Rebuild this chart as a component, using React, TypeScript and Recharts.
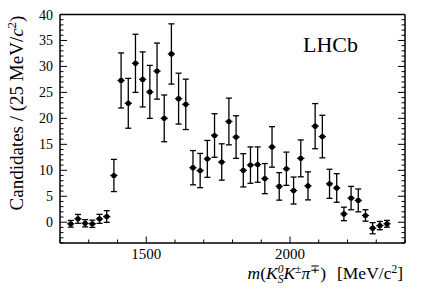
import React from 'react';
import { ComposedChart, Scatter, ErrorBar, XAxis, YAxis } from 'recharts';

// bin centres of the 25 MeV bins
const MASS = [
  1237.5, 1262.5, 1287.5, 1312.5, 1337.5, 1362.5, 1387.5, 1412.5, 1437.5, 1462.5,
  1487.5, 1512.5, 1537.5, 1562.5, 1587.5, 1612.5, 1637.5, 1662.5, 1687.5, 1712.5,
  1737.5, 1762.5, 1787.5, 1812.5, 1837.5, 1862.5, 1887.5, 1912.5, 1937.5, 1962.5,
  1987.5, 2012.5, 2037.5, 2062.5, 2087.5, 2112.5, 2137.5, 2162.5, 2187.5, 2212.5,
  2237.5, 2262.5, 2287.5, 2312.5, 2337.5,
];

const COUNTS = [
  -0.3, 0.65, -0.2, -0.3, 0.65, 1.1, 9.0, 27.3, 22.9, 30.6,
  27.5, 25.1, 29.1, 20.0, 32.4, 23.8, 22.7, 10.5, 9.95, 12.2,
  16.7, 11.6, 19.4, 16.4, 10.0, 11.0, 11.1, 8.4, 14.5, 6.9,
  10.3, 6.1, 12.3, 7.0, 18.5, 16.5, 7.4, 6.6, 1.6, 4.65,
  4.2, 1.3, -1.15, -0.65, -0.3,
];

const ERRORS = [
  0.65, 0.85, 0.7, 0.7, 0.87, 1.13, 3.1, 5.3, 4.8, 5.6,
  5.3, 5.1, 5.4, 4.5, 5.8, 4.9, 4.85, 3.3, 3.3, 3.55,
  4.2, 3.5, 4.5, 4.1, 3.2, 3.5, 3.4, 2.9, 3.9, 2.65,
  3.2, 2.6, 3.55, 2.7, 4.35, 4.1, 2.8, 2.75, 1.3, 2.25,
  2.2, 1.1, 1.07, 0.8, 0.65,
];

const HALF_BIN = 12.5;

const X_TICKS = [1200, 1300, 1400, 1500, 1600, 1700, 1800, 1900, 2000, 2100, 2200, 2300, 2400];
const X_LABELS = [1500, 2000];
const Y_TICKS = [
  -4, -3, -2, -1, 0, 1, 2, 3, 4, 5, 6, 7, 8, 9, 10, 11, 12, 13, 14, 15, 16, 17, 18, 19, 20,
  21, 22, 23, 24, 25, 26, 27, 28, 29, 30, 31, 32, 33, 34, 35, 36, 37, 38, 39, 40,
];
const Y_LABELS = [0, 5, 10, 15, 20, 25, 30, 35, 40];

const SERIF = '"Liberation Serif", "Times New Roman", serif';

const points = MASS.map((m, i) => ({ m, n: COUNTS[i], err: ERRORS[i], xerr: HALF_BIN }));

const BottomTick = (props: any) => {
  const { x, y, payload } = props;
  const major = X_LABELS.includes(payload.value);
  return (
    <g>
      <line x1={x} x2={x} y1={y} y2={y - (major ? 6.5 : 3.5)} stroke="#000" strokeWidth={1} />
      {major && (
        <text x={x} y={y + 16} textAnchor="middle" fontFamily={SERIF} fontSize={15} fill="#000">
          {payload.value}
        </text>
      )}
    </g>
  );
};

const TopTick = (props: any) => {
  const { x, y, payload } = props;
  const major = X_LABELS.includes(payload.value);
  return <line x1={x} x2={x} y1={y} y2={y + (major ? 6.5 : 3.5)} stroke="#000" strokeWidth={1} />;
};

const LeftTick = (props: any) => {
  const { x, y, payload } = props;
  const major = Y_LABELS.includes(payload.value);
  return (
    <g>
      <line x1={x} x2={x + (major ? 7 : 3.5)} y1={y} y2={y} stroke="#000" strokeWidth={1} />
      {major && (
        <text x={x - 7} y={y + 5} textAnchor="end" fontFamily={SERIF} fontSize={14} fill="#000">
          {payload.value}
        </text>
      )}
    </g>
  );
};

const RightTick = (props: any) => {
  const { x, y, payload } = props;
  const major = Y_LABELS.includes(payload.value);
  return <line x1={x} x2={x - (major ? 7 : 3.5)} y1={y} y2={y} stroke="#000" strokeWidth={1} />;
};

const Dot = (p: any) => <circle cx={p.cx} cy={p.cy} r={2.6} fill="#000" />;

const frame = { stroke: '#000', strokeWidth: 1.5 };

export default function App() {
  return (
    <div style={{ position: 'absolute', left: 0, top: 0, width: 427, height: 290, background: '#fff' }}>
      <ComposedChart width={427} height={290} data={points} margin={{ top: 13.5, right: 21, bottom: 46, left: 59 }}>
        <XAxis
          xAxisId="b"
          dataKey="m"
          type="number"
          domain={[1200, 2400]}
          allowDataOverflow
          ticks={X_TICKS}
          interval={0}
          height={1}
          tickSize={0}
          tickMargin={0}
          tickLine={false}
          axisLine={frame}
          tick={<BottomTick />}
        />
        <XAxis
          xAxisId="t"
          orientation="top"
          type="number"
          domain={[1200, 2400]}
          allowDataOverflow
          ticks={X_TICKS}
          interval={0}
          height={1}
          tickSize={0}
          tickMargin={0}
          tickLine={false}
          axisLine={frame}
          tick={<TopTick />}
        />
        <YAxis
          yAxisId="l"
          dataKey="n"
          type="number"
          domain={[-4, 40]}
          allowDataOverflow
          ticks={Y_TICKS}
          interval={0}
          width={1}
          tickSize={0}
          tickMargin={0}
          tickLine={false}
          axisLine={frame}
          tick={<LeftTick />}
        />
        <YAxis
          yAxisId="r"
          orientation="right"
          type="number"
          domain={[-4, 40]}
          allowDataOverflow
          ticks={Y_TICKS}
          interval={0}
          width={1}
          tickSize={0}
          tickMargin={0}
          tickLine={false}
          axisLine={frame}
          tick={<RightTick />}
        />
        <Scatter xAxisId="b" yAxisId="l" dataKey="n" shape={<Dot />} isAnimationActive={false}>
          <ErrorBar dataKey="err" direction="y" width={3} stroke="#000" strokeWidth={1.3} isAnimationActive={false} />
          <ErrorBar dataKey="xerr" direction="x" width={0} stroke="#000" strokeWidth={1.3} isAnimationActive={false} />
        </Scatter>
      </ComposedChart>
      <svg width={427} height={290} style={{ position: 'absolute', left: 0, top: 0, pointerEvents: 'none' }}>
        <text x={303} y={52} fontFamily={SERIF} fontSize={22} fill="#000">LHCb</text>
        <text
          transform="translate(23,113) rotate(-90)"
          textAnchor="middle"
          fontFamily={SERIF}
          fontSize={19}
          fill="#000"
        >
          Candidates / (25 MeV/<tspan fontStyle="italic">c</tspan>
          <tspan fontSize={13} dy={-7}>2</tspan>
          <tspan dy={7}>)</tspan>
        </text>
        <text x={403} y={279} textAnchor="end" fontFamily={SERIF} fontSize={17.5} fill="#000">
          <tspan fontStyle="italic">m</tspan>
          <tspan>(</tspan>
          <tspan fontStyle="italic">K</tspan>
          <tspan fontStyle="italic" fontSize={11.5} dy={-6}>0</tspan>
          <tspan fontStyle="italic" fontSize={11.5} dx={-5.8} dy={10}>S</tspan>
          <tspan fontStyle="italic" dy={-4}>K</tspan>
          <tspan fontSize={11.5} dy={-6}>±</tspan>
          <tspan fontStyle="italic" dy={6}>π</tspan>
          <tspan fontSize={11.5} dy={-6}>∓</tspan>
          <tspan dy={6}>)</tspan>
          <tspan dx={11}>[MeV/c</tspan>
          <tspan fontSize={11.5} dy={-6}>2</tspan>
          <tspan dy={6}>]</tspan>
        </text>
      </svg>
    </div>
  );
}
